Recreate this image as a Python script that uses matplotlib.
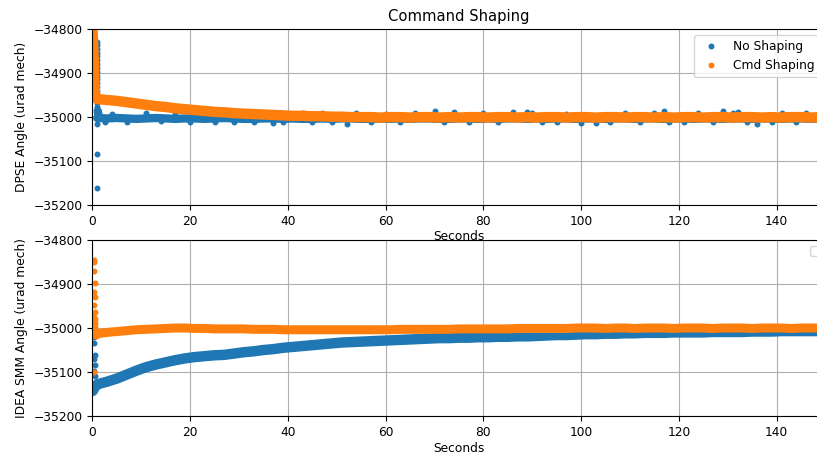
import numpy as np
import matplotlib
matplotlib.use("Agg")
import matplotlib.pyplot as plt

# ---------------- data ----------------
grid_t = np.arange(1, 150, 2)  # sample times (s) for the main traces

# Top panel: DPSE angle
dpse_none_band = [
    -35002, -35003, -35002, -35003, -35004, -35003, -35002, -35003, -35004, -35003,
    -35003, -35004, -35003, -35002, -35003, -35004, -35004, -35003, -35003, -35004,
    -35003, -35004, -35004, -35003, -35004, -35003, -35003, -35004, -35004, -35003,
    -35004, -35003, -35004, -35003, -35003, -35004, -35004, -35003, -35003, -35004,
    -35003, -35004, -35003, -35003, -35004, -35003, -35004, -35003, -35003, -35004,
    -35003, -35003, -35004, -35003, -35003, -35004, -35003, -35003, -35004, -35003,
    -35003, -35004, -35003, -35003, -35004, -35003, -35003, -35004, -35003, -35003,
    -35004, -35003, -35003, -35004, -35003]
dpse_none_start_t = [1.1, 1.3]
dpse_none_start_y = [-34986, -34997]
dpse_none_spike_t = [1.0, 1.05, 0.95, 1.0, 1.05, 1.0, 0.95, 1.0, 1.05, 1.0, 0.95, 1.0,
                     1.05, 1.0, 0.95, 1.0, 1.05, 1.0, 0.9, 0.9, 0.9]
dpse_none_spike_y = [-34830, -34836, -34845, -34853, -34861, -34870, -34879, -34888,
                     -34897, -34906, -34914, -34923, -34932, -34941, -34950, -34958,
                     -34967, -34976, -35015, -35084, -35162]
dpse_none_out_t = [2.5, 4, 7, 11, 14, 17, 20, 22, 25, 27, 29, 31, 33, 36, 37, 39, 43, 45,
                   47, 49, 52, 54, 57, 60, 63, 66, 70, 72, 74, 77, 80, 83, 86, 89, 90, 92,
                   95, 97, 100, 103, 106, 109, 112, 115, 117, 118, 121, 124, 127, 129,
                   131, 132, 134, 136, 139, 141, 144, 146]
dpse_none_out_y = [-35010, -34992, -35010, -34990, -35009, -34990, -35010, -34991,
                   -35012, -34990, -35012, -34992, -35011, -34991, -35013, -35012,
                   -34990, -35010, -34991, -35012, -35015, -34991, -35012, -34992,
                   -35012, -34990, -34985, -35011, -34989, -35012, -34991, -35011,
                   -34988, -34989, -34990, -35010, -35011, -34992, -35013, -35014,
                   -35012, -34991, -35011, -34991, -34986, -35010, -35011, -34991,
                   -35010, -34986, -34990, -34989, -35011, -35016, -35012, -34991,
                   -35010, -34990]

dpse_cmd_start_t = [0.0, 0.2, 0.35, 0.45, 0.55, 0.8]
dpse_cmd_start_y = [-34790, -34840, -34890, -34925, -34948, -34956]
dpse_cmd_band = [
    -34959, -34961, -34963, -34966, -34969, -34972, -34975, -34977, -34980, -34982,
    -34984, -34986, -34988, -34989, -34991, -34992, -34993, -34994, -34995, -34996,
    -34997, -34997, -34998, -34998, -34999, -34999, -35000, -35000, -35000, -35001,
    -35000, -35000, -35001, -35000, -35000, -35001, -35000, -35001, -35000, -35000,
    -35001, -35000, -35000, -35001, -35000, -35001, -35000, -35000, -35001, -35000,
    -35000, -35001, -35000, -35000, -35001, -35000, -35000, -35001, -35000, -35001,
    -35000, -35000, -35001, -35000, -35000, -35001, -35000, -35000, -35001, -35000,
    -35001, -35000, -35000, -35001, -35000]

# Bottom panel: IDEA SMM angle
idea_none_start_t = [0.1, 0.3, 0.6]
idea_none_start_y = [-35143, -35139, -35133]
idea_none_band = [
    -35128, -35122, -35115, -35106, -35097, -35089, -35083, -35078, -35073, -35069,
    -35066, -35064, -35062, -35061, -35058, -35055, -35053, -35050, -35048, -35045,
    -35043, -35041, -35039, -35037, -35035, -35033, -35032, -35031, -35030, -35029,
    -35028, -35027, -35026, -35025, -35024, -35023, -35023, -35022, -35022, -35021,
    -35021, -35020, -35020, -35019, -35019, -35018, -35017, -35016, -35016, -35015,
    -35014, -35014, -35013, -35013, -35012, -35012, -35011, -35011, -35011, -35010,
    -35010, -35010, -35010, -35009, -35009, -35009, -35009, -35008, -35008, -35008,
    -35007, -35007, -35007, -35007, -35007]
idea_none_spike_t = [0.4, 0.4, 0.45, 0.4, 0.45, 0.4, 0.5]
idea_none_spike_y = [-35020, -35035, -35061, -35070, -35084, -35097, -35110]

idea_cmd_start_t = [0.6, 0.8]
idea_cmd_start_y = [-35010, -35016]
idea_cmd_band = [
    -35013, -35010, -35008, -35006, -35004, -35003, -35002, -35001, -35000, -35000,
    -35001, -35001, -35002, -35002, -35002, -35002, -35003, -35003, -35003, -35004,
    -35004, -35004, -35004, -35004, -35004, -35004, -35004, -35004, -35004, -35004,
    -35004, -35003, -35003, -35003, -35003, -35003, -35003, -35002, -35002, -35002,
    -35002, -35002, -35002, -35001, -35001, -35001, -35001, -35001, -35001, -35000,
    -35000, -35000, -35001, -35000, -35000, -35001, -35000, -35000, -35000, -35001,
    -35000, -35000, -35000, -35001, -35000, -35000, -35000, -35001, -35000, -35000,
    -35000, -35001, -35000, -35000, -35000]
idea_cmd_spike_t = [0.4, 0.4, 0.4, 0.45, 0.4, 0.45, 0.4, 0.45, 0.4, 0.45, 0.5, 0.55,
                    0.6, 0.4]
idea_cmd_spike_y = [-34845, -34850, -34870, -34898, -34918, -34930, -34948, -34963,
                    -34975, -34980, -34989, -34997, -35005, -35101]

x_ticks = [0, 20, 40, 60, 80, 100, 120, 140]
y_ticks = [-34800, -34900, -35000, -35100, -35200]
series_labels = ["No Shaping", "Cmd Shaping"]

# ---------------- figure ----------------
BLUE = "#1f77b4"
ORANGE = "#ff7f0e"
FS = 8.8

fig = plt.figure(figsize=(8.17, 4.55), dpi=100)
ax1 = fig.add_axes([0.113, 0.5495, 0.8975, 0.3862])
ax2 = fig.add_axes([0.113, 0.0857, 0.8975, 0.3868])

MS = 6.5


def band(ax, t0, y0, vals, color, lw):
    t = np.concatenate([t0, grid_t])
    y = np.concatenate([y0, vals])
    ax.plot(t, y, '-', color=color, lw=lw, solid_capstyle='round',
            solid_joinstyle='round')
    return t, y


# Top
t, y = band(ax1, dpse_none_start_t, dpse_none_start_y, dpse_none_band, BLUE, 6.0)
ax1.plot(t, y, '.', color=BLUE, ms=MS, label=series_labels[0])
ax1.plot(dpse_none_spike_t, dpse_none_spike_y, '.', color=BLUE, ms=MS)
ax1.plot(dpse_none_out_t, dpse_none_out_y, '.', color=BLUE, ms=MS)
t, y = band(ax1, dpse_cmd_start_t, dpse_cmd_start_y, dpse_cmd_band, ORANGE, 7.5)
ax1.plot(t, y, '.', color=ORANGE, ms=MS, label=series_labels[1])

# Bottom
t, y = band(ax2, idea_none_start_t, idea_none_start_y, idea_none_band, BLUE, 7.5)
ax2.plot(t, y, '.', color=BLUE, ms=MS)
ax2.plot(idea_none_spike_t, idea_none_spike_y, '.', color=BLUE, ms=MS)
t, y = band(ax2, idea_cmd_start_t, idea_cmd_start_y, idea_cmd_band, ORANGE, 6.5)
ax2.plot(t, y, '.', color=ORANGE, ms=MS)
ax2.plot(idea_cmd_spike_t, idea_cmd_spike_y, '.', color=ORANGE, ms=MS)

for ax, ylab in ((ax1, "DPSE Angle (urad mech)"), (ax2, "IDEA SMM Angle (urad mech)")):
    ax.set_xlim(0, 150)
    ax.set_ylim(-35200, -34800)
    ax.set_xticks(x_ticks)
    ax.set_yticks(y_ticks)
    ax.ticklabel_format(axis='y', useOffset=False, style='plain')
    ax.tick_params(labelsize=FS)
    ax.grid(True)
    ax.set_xlabel("Seconds", fontsize=FS, labelpad=2.0)
    ax.set_ylabel(ylab, fontsize=FS)

ax1.set_title("Command Shaping", fontsize=10.6)
ax1.legend(loc='upper right', fontsize=FS)
ax2.legend(handles=[], labels=[], loc='upper right', fontsize=FS)

fig.savefig("out.png", dpi=100)
